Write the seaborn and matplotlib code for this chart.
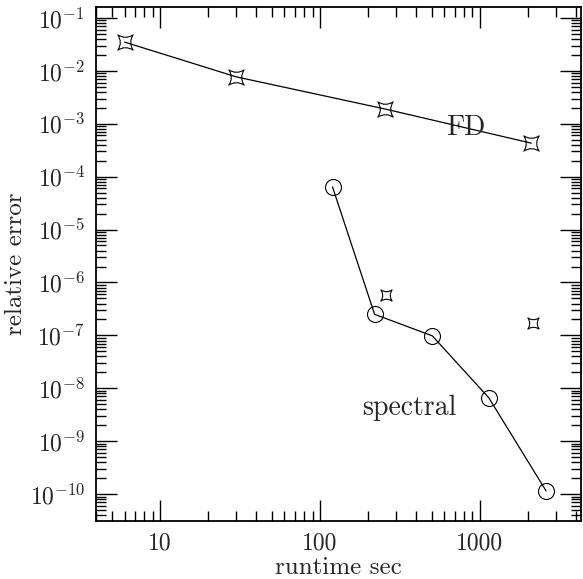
import numpy as np
import pandas as pd
import matplotlib
matplotlib.use("Agg")
import matplotlib.pyplot as plt
from matplotlib.path import Path
from matplotlib.ticker import LogLocator, NullFormatter, FixedLocator, FixedFormatter
import seaborn as sns

# Finite-difference runs
fd_runtime = [6, 30, 256, 2100]
fd_error = [3.5e-2, 7.7e-3, 1.9e-3, 4.3e-4]

# Spectral runs
sp_runtime = [120, 220, 505, 1140, 2600]
sp_error = [6.4e-5, 2.5e-7, 9.8e-8, 6.6e-9, 1.15e-10]

# Extra FD points (no connecting line)
fd_extra_runtime = [260, 2150]
fd_extra_error = [5.8e-7, 1.7e-7]

x_ticks = [10, 100, 1000]
x_ticklabels = ["10", "100", "1000"]
y_exponents = list(range(-10, 0))

sns.set_style("ticks")
plt.rcParams["font.family"] = ["cmr10", "DejaVu Serif"]
plt.rcParams["mathtext.fontset"] = "cm"
plt.rcParams["axes.unicode_minus"] = False


def concave_star():
    # four-pointed star with curved (concave) sides, points at the diagonals
    c = 0.35
    verts = [(1, 1), (0, c), (-1, 1), (-c, 0), (-1, -1), (0, -c), (1, -1), (c, 0), (1, 1), (1, 1)]
    codes = [Path.MOVETO,
             Path.CURVE3, Path.CURVE3,
             Path.CURVE3, Path.CURVE3,
             Path.CURVE3, Path.CURVE3,
             Path.CURVE3, Path.CURVE3,
             Path.CLOSEPOLY]
    return Path(verts, codes)


star = concave_star()

fig = plt.figure(figsize=(5.83, 5.79), dpi=100)
ax = fig.add_axes([96 / 583, 1 - 521 / 579, (581 - 96) / 583, (521 - 7) / 579])

fd = pd.DataFrame({"runtime": fd_runtime, "error": fd_error})
sp = pd.DataFrame({"runtime": sp_runtime, "error": sp_error})
ex = pd.DataFrame({"runtime": fd_extra_runtime, "error": fd_extra_error})

sns.lineplot(data=fd, x="runtime", y="error", ax=ax, color="black", lw=0.9,
             marker=star, markersize=11, markerfacecolor="none",
             markeredgecolor="black", markeredgewidth=0.8, sort=False)
sns.lineplot(data=sp, x="runtime", y="error", ax=ax, color="black", lw=0.9,
             marker="o", markersize=11.5, markerfacecolor="none",
             markeredgecolor="black", markeredgewidth=0.8, sort=False)
sns.lineplot(data=ex, x="runtime", y="error", ax=ax, color="black", lw=0,
             marker=star, markersize=8, markerfacecolor="none",
             markeredgecolor="black", markeredgewidth=0.8, sort=False)

ax.set_xscale("log")
ax.set_yscale("log")
ax.set_xlim(3.98, 4300)
ax.set_ylim(3.1e-11, 0.161)

ax.xaxis.set_major_locator(FixedLocator(x_ticks))
ax.xaxis.set_major_formatter(FixedFormatter(x_ticklabels))
ax.xaxis.set_minor_locator(LogLocator(base=10, subs=np.arange(2, 10)))
ax.xaxis.set_minor_formatter(NullFormatter())

y_ticks = [10.0 ** e for e in y_exponents]
ax.yaxis.set_major_locator(FixedLocator(y_ticks))
ax.yaxis.set_major_formatter(FixedFormatter([rf"$10^{{{e}}}$" for e in y_exponents]))
ax.yaxis.set_minor_locator(LogLocator(base=10, subs=np.arange(2, 10), numticks=30))
ax.yaxis.set_minor_formatter(NullFormatter())

ax.tick_params(which="both", direction="in", top=True, right=True, color="black", width=1.0)
ax.tick_params(which="major", length=15, labelsize=17, pad=8)
ax.tick_params(which="minor", length=7)
for s in ax.spines.values():
    s.set_linewidth(1.3)
    s.set_color("black")

ax.set_xlabel("runtime sec", fontsize=18, labelpad=2)
ax.set_ylabel("relative error", fontsize=18, labelpad=2)

ax.text(817, 8.3e-4, "FD", fontsize=20, ha="center", va="center")
ax.text(365, 4.3e-9, "spectral", fontsize=20, ha="center", va="center")

fig.savefig("out.png", dpi=100)
